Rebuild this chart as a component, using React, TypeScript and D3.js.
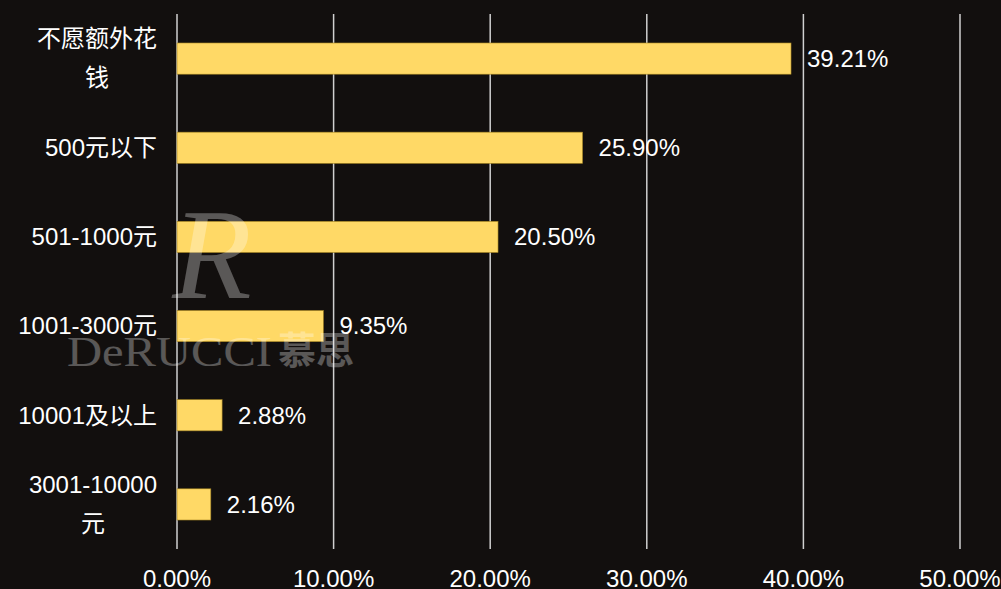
import React from "react";
import * as d3 from "d3";

const categories: string[][] = [
  ["不愿额外花", "钱"],
  ["500元以下"],
  ["501-1000元"],
  ["1001-3000元"],
  ["10001及以上"],
  ["3001-10000", "元"],
];
const values: number[] = [39.21, 25.9, 20.5, 9.35, 2.88, 2.16];
const valueLabels: string[] = ["39.21%", "25.90%", "20.50%", "9.35%", "2.88%", "2.16%"];
const ticks: number[] = [0, 10, 20, 30, 40, 50];
const tickLabels: string[] = ["0.00%", "10.00%", "20.00%", "30.00%", "40.00%", "50.00%"];

const W = 1001;
const H = 589;
const FONT = "'Liberation Sans', Arial, 'Noto Sans CJK SC', sans-serif";

function charWidth(ch: string, size: number) {
  if (/[\u4e00-\u9fff]/.test(ch)) return size;
  if (ch === "-") return size * 0.333;
  if (ch === ".") return size * 0.278;
  if (ch === "%") return size * 0.889;
  return size * 0.556;
}
function textWidth(s: string, size: number) {
  let w = 0;
  for (const c of s) w += charWidth(c, size);
  return w;
}

export default function App() {
  const x = d3.scaleLinear().domain([0, 50]).range([177, 960]);
  const y = d3
    .scaleBand<number>()
    .domain(d3.range(categories.length))
    .range([14, 549])
    .paddingInner(0.65)
    .paddingOuter(0.325);
  const fs = 24;
  const lineH = 39;
  const labelRight = 157;

  return (
    <svg
      width={W}
      height={H}
      style={{ position: "absolute", left: 0, top: 0, display: "block" }}
    >
      <rect x={0} y={0} width={W} height={H} fill="#120f0e" />
      {ticks.map((t, i) => (
        <line
          key={"g" + i}
          x1={x(t)}
          x2={x(t)}
          y1={14}
          y2={549}
          stroke="#d0d0d0"
          strokeWidth={1.5}
        />
      ))}
      {values.map((v, i) => (
        <rect
          key={"b" + i}
          x={x(0)}
          y={y(i)!}
          width={x(v) - x(0)}
          height={y.bandwidth()}
          fill="#FFD966"
          stroke="#a08020"
          strokeWidth={0.6}
        />
      ))}
      {values.map((v, i) => (
        <text
          key={"v" + i}
          x={x(v) + 16}
          y={y(i)! + y.bandwidth() / 2}
          dy="0.35em"
          fill="#ffffff"
          fontFamily={FONT}
          fontSize={fs}
        >
          {valueLabels[i]}
        </text>
      ))}
      {categories.map((lines, i) => {
        const cy = y(i)! + y.bandwidth() / 2;
        const maxW = Math.max(...lines.map((l) => textWidth(l, fs)));
        const cx = labelRight - maxW / 2;
        const startY = cy - ((lines.length - 1) * lineH) / 2;
        return lines.map((l, j) => (
          <text
            key={"c" + i + "-" + j}
            x={lines.length > 1 ? cx : labelRight}
            y={startY + j * lineH}
            dy="0.35em"
            textAnchor={lines.length > 1 ? "middle" : "end"}
            fill="#ffffff"
            fontFamily={FONT}
            fontSize={fs}
          >
            {l}
          </text>
        ));
      })}
      {ticks.map((t, i) => (
        <text
          key={"t" + i}
          x={x(t)}
          y={587}
          textAnchor="middle"
          fill="#ffffff"
          fontFamily={FONT}
          fontSize={fs}
        >
          {tickLabels[i]}
        </text>
      ))}
      <g opacity={0.3} fill="#ffffff" pointerEvents="none">
        <text
          x={212}
          y={298}
          textAnchor="middle"
          fontFamily="'Liberation Serif', 'DejaVu Serif', serif"
          fontStyle="italic"
          fontSize={130}
        >
          R
        </text>
        <text
          x={67}
          y={366}
          fontFamily="'Liberation Serif', 'DejaVu Serif', serif"
          fontSize={42}
          textLength={205}
          lengthAdjust="spacingAndGlyphs"
        >
          DeRUCCI
        </text>
        <text
          x={278}
          y={364}
          fontFamily="'Noto Sans CJK SC', sans-serif"
          fontSize={38}
          fontWeight={700}
        >
          慕思
        </text>
      </g>
    </svg>
  );
}
